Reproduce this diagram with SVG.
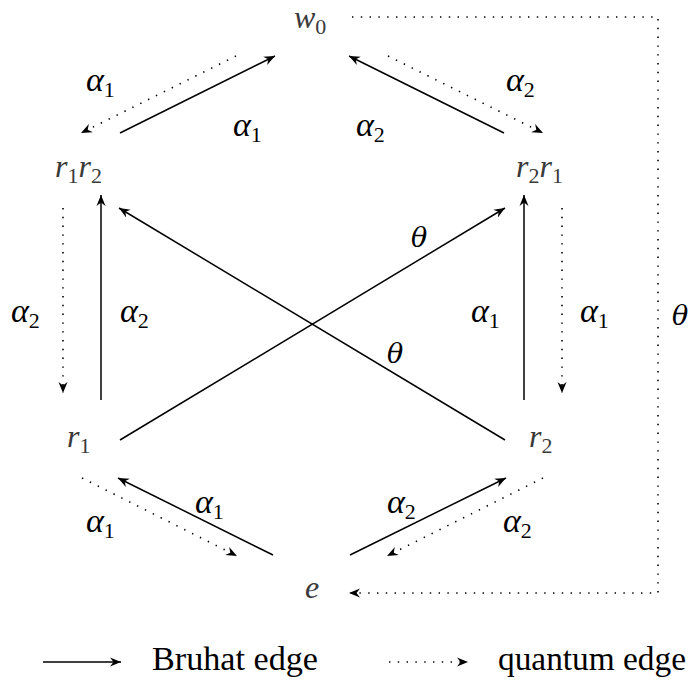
<svg xmlns="http://www.w3.org/2000/svg" width="691" height="686" viewBox="0 0 691 686">
<style>
.m{font-family:"Liberation Serif","DejaVu Serif",serif;font-style:italic;font-size:34px;fill:#000}
.th{font-family:"DejaVu Serif","Liberation Serif",serif;font-style:italic;font-size:27px;fill:#000}
.n{font-family:"Liberation Serif","DejaVu Serif",serif;font-style:italic;font-size:32px;fill:#3a3a3a}
.s{font-family:"Liberation Serif","DejaVu Serif",serif;font-style:normal;font-size:22px}
.t{font-family:"Liberation Serif","DejaVu Serif",serif;font-size:33px;fill:#000}
.b{fill:none;stroke:#000;stroke-width:1.5;marker-end:url(#ah)}
.q{fill:none;stroke:#000;stroke-width:1.6;stroke-dasharray:1.4 7.4;marker-end:url(#ah)}
</style>
<defs>
<marker id="ah" markerUnits="userSpaceOnUse" markerWidth="16" markerHeight="12" viewBox="-12 -6 14 12" refX="0" refY="0" orient="auto">
<path d="M0,0 L-11,-4.5 L-7.5,0 L-11,4.5 Z" fill="#000"/>
</marker>
</defs>
<g id="connectors">
<path class="b" d="M120,133 L275,56"/>
<path class="b" d="M504,133 L349,56"/>
<path class="b" d="M101,400 L101,195"/>
<path class="b" d="M524,400 L524,195"/>
<path class="b" d="M120,440 L505,208"/>
<path class="b" d="M505,440 L119,208"/>
<path class="b" d="M273,555 L118,478"/>
<path class="b" d="M350,555 L506,478"/>
<path class="q" d="M236,56 L81,133"/>
<path class="q" d="M388,56 L543,133"/>
<path class="q" d="M63,208 L63,393"/>
<path class="q" d="M562,208 L562,393"/>
<path class="q" d="M82,478 L237,556"/>
<path class="q" d="M543,478 L387,556"/>
<path class="q" d="M352,17 L658,17 L658,593 L349,593"/>
<text class="m" x="86" y="91">α<tspan class="s" dy="6">1</tspan></text>
<text class="m" x="233" y="136">α<tspan class="s" dy="6">1</tspan></text>
<text class="m" x="356" y="136">α<tspan class="s" dy="6">2</tspan></text>
<text class="m" x="506" y="91">α<tspan class="s" dy="6">2</tspan></text>
<text class="m" x="11" y="322">α<tspan class="s" dy="6">2</tspan></text>
<text class="m" x="120" y="322">α<tspan class="s" dy="6">2</tspan></text>
<text class="m" x="471" y="322">α<tspan class="s" dy="6">1</tspan></text>
<text class="m" x="580" y="322">α<tspan class="s" dy="6">1</tspan></text>
<text class="th" x="672" y="325">θ</text>
<text class="th" x="411" y="247">θ</text>
<text class="th" x="387" y="363">θ</text>
<text class="m" x="195" y="513">α<tspan class="s" dy="6">1</tspan></text>
<text class="m" x="86" y="532">α<tspan class="s" dy="6">1</tspan></text>
<text class="m" x="387" y="513">α<tspan class="s" dy="6">2</tspan></text>
<text class="m" x="503" y="532">α<tspan class="s" dy="6">2</tspan></text>
</g>
<g id="w0"><text class="n" x="294" y="28">w<tspan class="s" dy="6">0</tspan></text></g>
<g id="r1r2"><text class="n" x="55" y="177">r<tspan class="s" dy="6">1</tspan><tspan dy="-6">r</tspan><tspan class="s" dy="6">2</tspan></text></g>
<g id="r2r1"><text class="n" x="516" y="177">r<tspan class="s" dy="6">2</tspan><tspan dy="-6">r</tspan><tspan class="s" dy="6">1</tspan></text></g>
<g id="r1"><text class="n" x="67" y="447">r<tspan class="s" dy="6">1</tspan></text></g>
<g id="r2"><text class="n" x="529" y="447">r<tspan class="s" dy="6">2</tspan></text></g>
<g id="e"><text class="n" x="305" y="598">e</text></g>
<g id="legend">
<path class="b" d="M43,662 L121,662"/>
<text class="t" x="152" y="670" textLength="166" lengthAdjust="spacingAndGlyphs">Bruhat edge</text>
<path class="q" d="M389,662 L468,662"/>
<text class="t" x="498" y="670" textLength="188" lengthAdjust="spacingAndGlyphs">quantum edge</text>
</g>
</svg>
